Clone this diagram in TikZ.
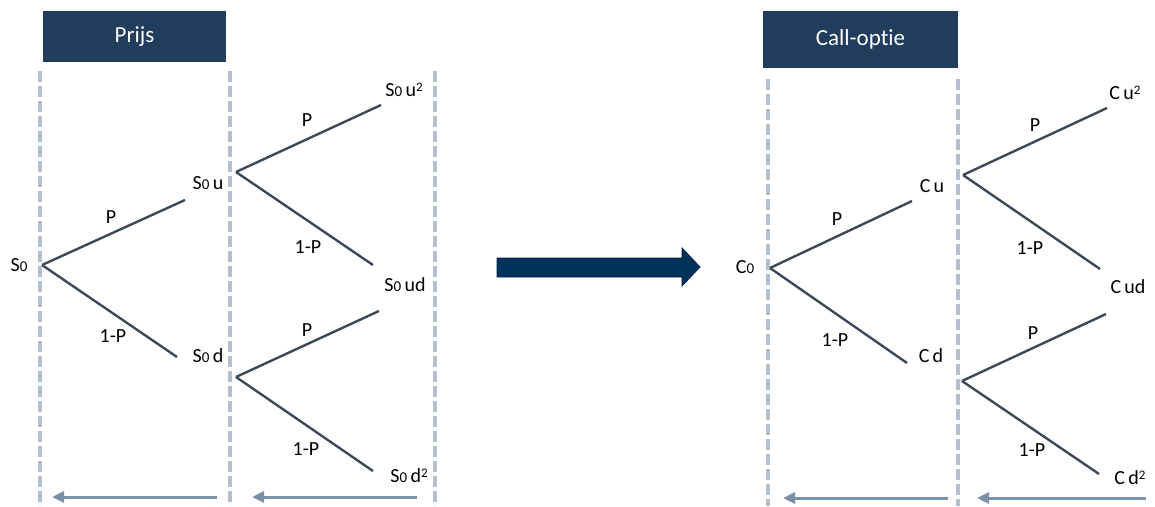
\documentclass[tikz,border=0pt]{standalone}
\usepackage{fontspec}
\setmainfont[Ligatures=NoCommon]{Carlito}
\usetikzlibrary{arrows.meta}
\definecolor{headblue}{RGB}{33,61,91}
\definecolor{gridgrey}{RGB}{180,191,208}
\definecolor{branch}{RGB}{61,72,88}
\definecolor{backarrow}{RGB}{125,144,170}
\definecolor{bigarrow}{RGB}{0,50,90}
\definecolor{bigarrowedge}{RGB}{0,32,80}
% small old-style looking zero used in S0 / C0, and a raised square
\newcommand\oldzero{{\fontsize{15}{15}\selectfont 0}}
\newcommand\sqr{\raisebox{0.55ex}{\fontsize{13}{13}\selectfont 2}}
\begin{document}
\begin{tikzpicture}[x=1pt,y=-1pt,
  header/.style={fill=headblue,text=white,font=\fontsize{23}{23}\selectfont,inner sep=0pt},
  period/.style={draw=gridgrey,line width=3.5pt,dash pattern=on 11pt off 4pt},
  edge/.style={draw=branch,line width=2.4pt},
  val/.style={font=\fontsize{20}{20}\selectfont,inner sep=0pt,text=black},
  prob/.style={font=\fontsize{20}{20}\selectfont,inner sep=0pt,text=black},
  back/.style={draw=backarrow,line width=3pt,-{Triangle[length=12pt,width=11pt]}}]
\useasboundingbox (0,0) rectangle (1155,506);

% ---------- headers ----------
\node[header,minimum width=183pt,minimum height=51pt] (hprice) at (134.5,36.5) {Prijs};
\node[header,minimum width=195pt,minimum height=57pt] (hcall) at (860.5,39.5) {Call-optie};

% ---------- period separators ----------
\coordinate (lt1) at (40,71);   \coordinate (lb1) at (40,506);
\coordinate (lt2) at (230,71);  \coordinate (lb2) at (230,506);
\coordinate (lt3) at (435,71);  \coordinate (lb3) at (435,506);
\coordinate (rt1) at (768,79);  \coordinate (rb1) at (768,506);
\coordinate (rt2) at (958,79);  \coordinate (rb2) at (958,506);
\foreach \a/\b in {lt1/lb1,lt2/lb2,lt3/lb3,rt1/rb1,rt2/rb2}
  \draw[period] (\a) -- (\b);

% ---------- price tree ----------
\coordinate (s0) at (42,265);
\coordinate (su) at (236,172);
\coordinate (sd) at (236,377);
\coordinate (eu) at (185,200);
\coordinate (ed) at (177,357);
\coordinate (euu) at (381,105);
\coordinate (eud) at (373,265);
\coordinate (edu) at (379,311);
\coordinate (edd) at (373,471);

\node[val] (ls0) at (19,265) {S\oldzero};
\node[val] (lsu) at (208,183) {S\oldzero\,u};
\node[val] (lsd) at (208,356) {S\oldzero\,d};
\node[val] (lsuu) at (404,90) {S\oldzero\,u\sqr};
\node[val] (lsud) at (405,285) {S\oldzero\,ud};
\node[val] (lsdd) at (409,476) {S\oldzero\,d\sqr};

\draw[edge] (s0) -- (eu);
\draw[edge] (s0) -- (ed);
\draw[edge] (su) -- (euu);
\draw[edge] (su) -- (eud);
\draw[edge] (sd) -- (edu);
\draw[edge] (sd) -- (edd);

\node[prob] (p1) at (111,217) {P};
\node[prob] (q1) at (113,336) {1-P};
\node[prob] (p2) at (307,120) {P};
\node[prob] (q2) at (308,247) {1-P};
\node[prob] (p3) at (307,330) {P};
\node[prob] (q3) at (306,449) {1-P};

% ---------- backward induction arrows (price) ----------
\coordinate (la1s) at (217,497); \coordinate (la1e) at (52,497);
\coordinate (la2s) at (417,497); \coordinate (la2e) at (252,497);
\draw[back] (la1s) -- (la1e);
\draw[back] (la2s) -- (la2e);

% ---------- transition arrow ----------
\fill[bigarrow,draw=bigarrowedge,line width=0.8pt]
  (497,258) -- (682,258) -- (682,248) -- (700,267) -- (682,286)
  -- (682,277) -- (497,277) -- cycle;

% ---------- option tree ----------
\coordinate (c0) at (770,268);
\coordinate (cu) at (963,175);
\coordinate (cd) at (962,381);
\coordinate (fu) at (912,201);
\coordinate (fd) at (907,363);
\coordinate (fuu) at (1107,108);
\coordinate (fud) at (1100,269);
\coordinate (fdu) at (1106,314);
\coordinate (fdd) at (1099,474);

\node[val] (lc0) at (745,267) {C\oldzero};
\node[val] (lcu) at (932,186) {C\,u};
\node[val] (lcd) at (931,356) {C\,d};
\node[val] (lcuu) at (1125,93) {C\,u\sqr};
\node[val] (lcud) at (1128,287) {C\,ud};
\node[val] (lcdd) at (1130,478) {C\,d\sqr};

\draw[edge] (c0) -- (fu);
\draw[edge] (c0) -- (fd);
\draw[edge] (cu) -- (fuu);
\draw[edge] (cu) -- (fud);
\draw[edge] (cd) -- (fdu);
\draw[edge] (cd) -- (fdd);

\node[prob] (cp1) at (837,219) {P};
\node[prob] (cq1) at (835,340) {1-P};
\node[prob] (cp2) at (1035,125) {P};
\node[prob] (cq2) at (1030,248) {1-P};
\node[prob] (cp3) at (1033,333) {P};
\node[prob] (cq3) at (1032,450) {1-P};

% ---------- backward induction arrows (option) ----------
\coordinate (ra1s) at (948,498); \coordinate (ra1e) at (783,498);
\coordinate (ra2s) at (1146,498); \coordinate (ra2e) at (977,498);
\draw[back] (ra1s) -- (ra1e);
\draw[back] (ra2s) -- (ra2e);
\end{tikzpicture}
\end{document}
